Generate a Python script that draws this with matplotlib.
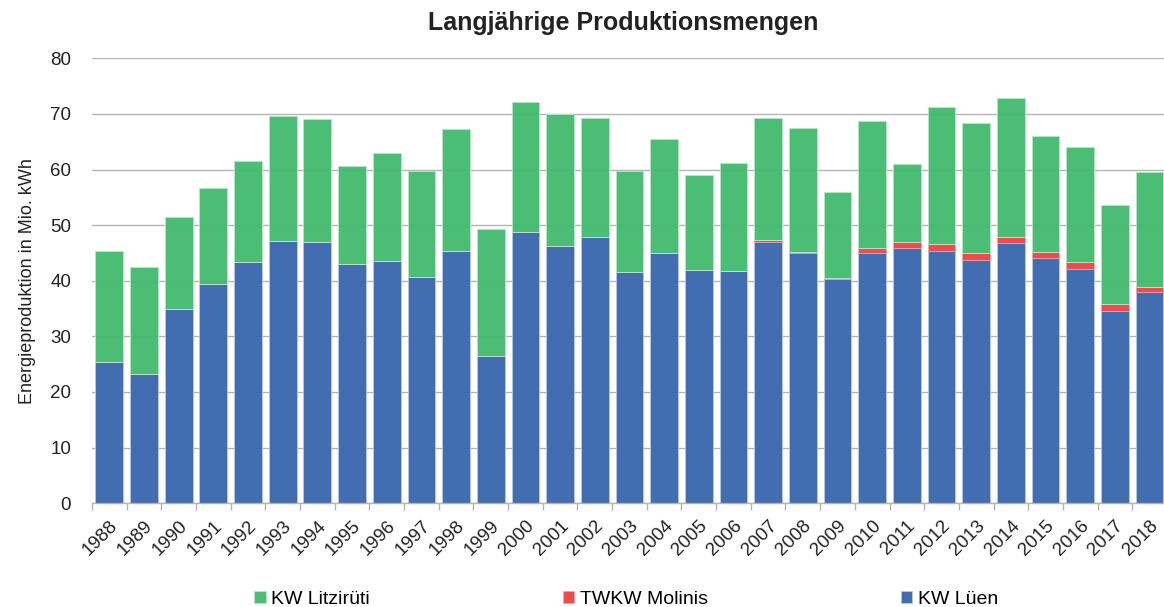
import numpy as np
import matplotlib.pyplot as plt

plt.rcParams["font.family"] = ["Liberation Sans", "DejaVu Sans"]

years = [str(y) for y in range(1988, 2019)]
total = [45.4, 42.4, 51.5, 56.6, 61.5, 69.7, 69.0, 60.7, 62.9, 59.8,
         67.3, 49.3, 72.1, 69.9, 69.3, 59.7, 65.5, 59.0, 61.1, 69.2,
         67.5, 55.9, 68.8, 61.0, 71.3, 68.4, 72.9, 66.1, 64.1, 53.7, 59.6]
lueen = [25.3, 23.2, 35.0, 39.5, 43.3, 47.2, 47.0, 43.0, 43.5, 40.7,
         45.3, 26.4, 48.7, 46.3, 47.9, 41.5, 44.9, 42.0, 41.7, 46.9,
         44.9, 40.3, 44.9, 45.8, 45.3, 43.7, 46.7, 44.0, 42.1, 34.6, 37.9]
molinis = [0, 0, 0, 0, 0, 0, 0, 0, 0, 0,
           0, 0, 0, 0, 0, 0, 0, 0, 0, 0.35,
           0.3, 0.2, 0.95, 1.2, 1.3, 1.2, 1.1, 1.2, 1.2, 1.2, 1.0]

lueen = np.array(lueen)
molinis = np.array(molinis)
litziruti = np.array(total) - lueen - molinis

C_GREEN = "#45BB6F"
C_RED = "#EE4646"
C_BLUE = "#3C69AF"

fig = plt.figure(figsize=(11.64, 6.07), dpi=100)
ax = fig.add_axes([0.079, 0.171, 0.9235, 0.733])

x = np.arange(len(years))
w = 0.8
ax.bar(x, lueen, w, color=C_BLUE, edgecolor="#B5C6E2", linewidth=0.7,
       alpha=0.97, label="KW Lüen", zorder=2)
ax.bar(x, molinis, w, bottom=lueen, color=C_RED, edgecolor="#F5A5A5",
       linewidth=0.5, alpha=0.97, label="TWKW Molinis", zorder=2)
ax.bar(x, litziruti, w, bottom=lueen + molinis, color=C_GREEN,
       edgecolor="#B8E6C6", linewidth=0.7, alpha=0.97,
       label="KW Litzirüti", zorder=2)

ax.set_xlim(-0.5, len(years) - 0.5)
ax.set_ylim(0, 80)
ax.set_yticks(range(0, 81, 10))
ax.yaxis.grid(True, color="#B4B4B4", linewidth=1.0, zorder=1)
ax.set_axisbelow(True)
for s in ["top", "right", "left"]:
    ax.spines[s].set_visible(False)
ax.spines["bottom"].set_color("#B4B4B4")
ax.spines["bottom"].set_linewidth(1.0)

ax.set_xticks(x - 0.5, minor=True)
ax.tick_params(axis="x", which="minor", length=5, color="#B4B4B4", width=1)
ax.set_xticks(x)
ax.set_xticklabels(years, rotation=45, ha="right", rotation_mode="anchor",
                   fontsize=13.5, color="#222222")
ax.tick_params(axis="x", which="major", length=0, pad=10)
ax.tick_params(axis="y", length=0, labelsize=13.5, labelcolor="#222222", pad=15)

ax.set_ylabel("Energieproduktion in Mio. kWh", fontsize=13, color="#222222",
              labelpad=10)
fig.text(0.535, 0.962, "Langjährige Produktionsmengen", fontsize=18,
         fontweight="bold", color="#222222", ha="center", va="center")

handles, labels = ax.get_legend_handles_labels()
order = [2, 1, 0]
fig.legend([handles[i] for i in order], [labels[i] for i in order],
           loc="lower center", bbox_to_anchor=(0.538, -0.03), ncol=3,
           frameon=False, fontsize=14, handlelength=0.6, handleheight=0.6,
           handletextpad=0.3, columnspacing=9.9)

fig.savefig("out.png", dpi=100)
